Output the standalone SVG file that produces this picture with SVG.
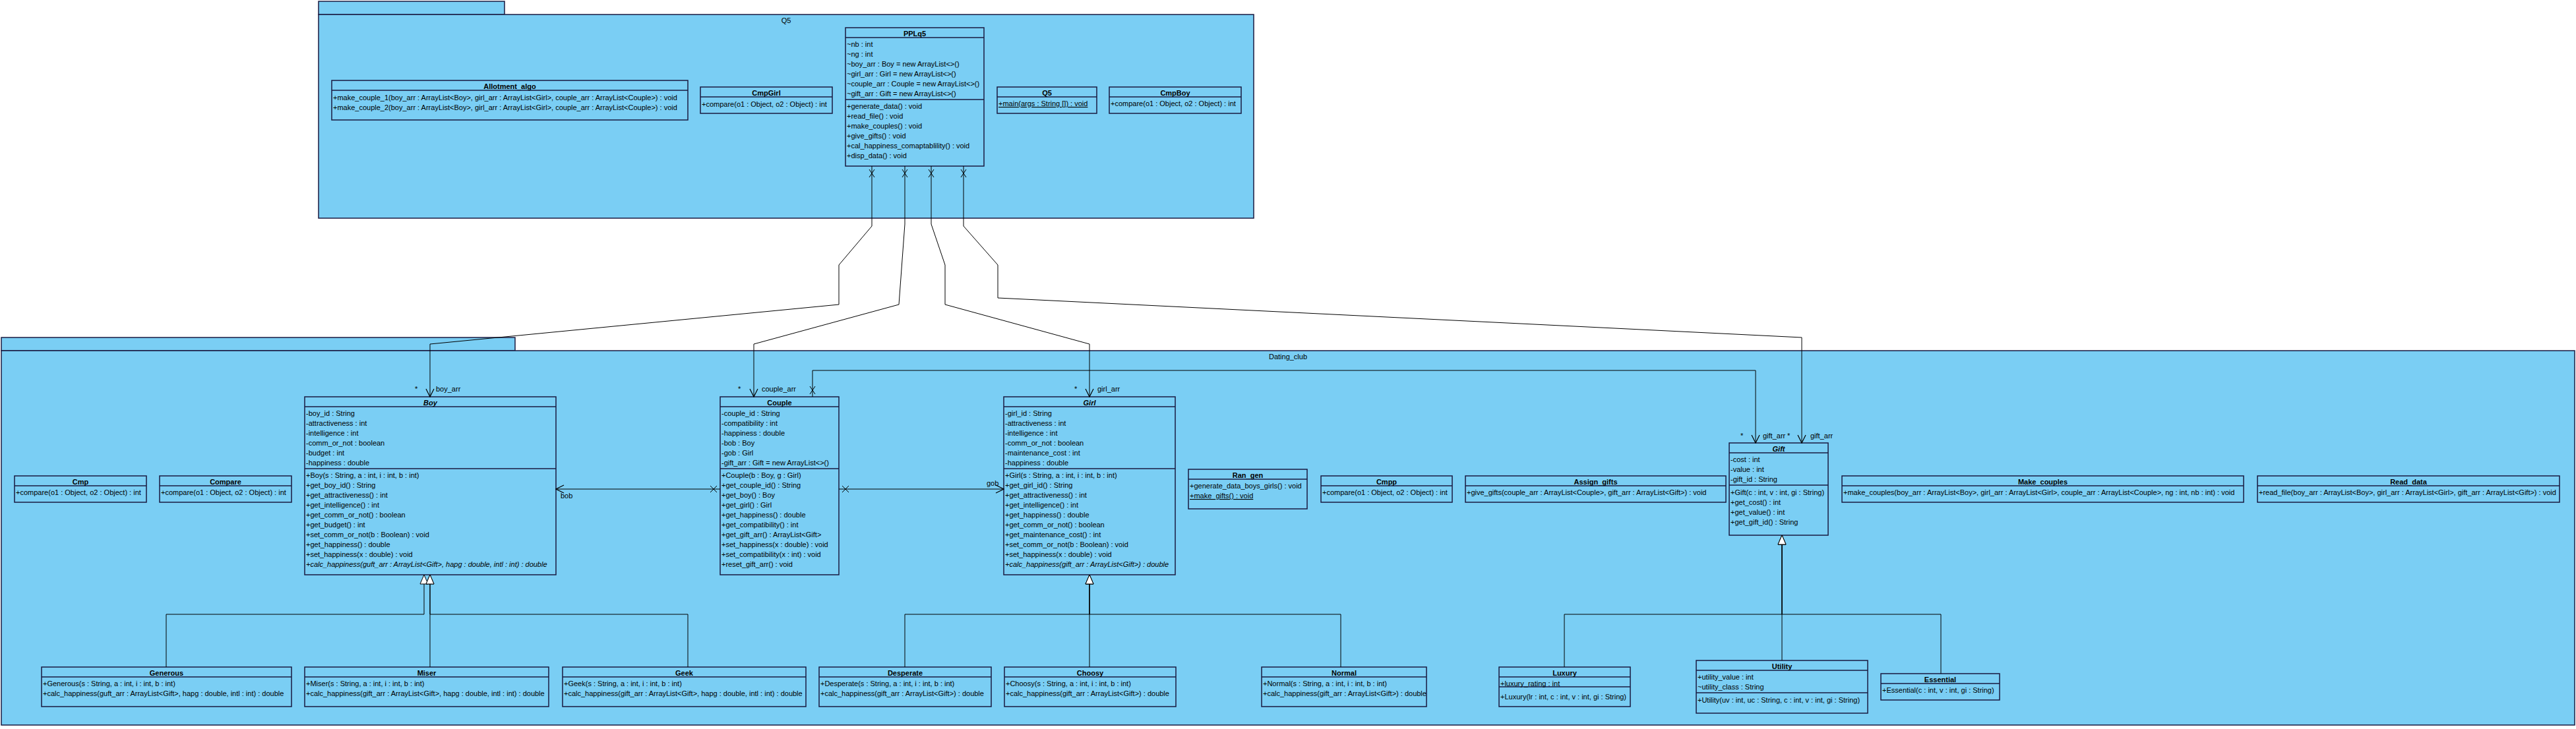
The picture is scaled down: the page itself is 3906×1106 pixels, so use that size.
<svg xmlns="http://www.w3.org/2000/svg" width="3906" height="1106" viewBox="0 0 3906 1106">
<style>
.bg{fill:#ffffff}
.pk{fill:#7ACEF4;stroke:#1a1a40;stroke-width:1.5}
.box{fill:#7ACEF4;stroke:#1a1a40;stroke-width:1.5}
.sep{stroke:#1a1a40;stroke-width:1.5}
.t{font-family:"Liberation Sans",Arial,sans-serif;font-size:11px;fill:#000}
.h{font-weight:bold;text-anchor:middle}
.c{text-anchor:middle}
.i{font-style:italic}
.u{text-decoration:underline}
.ln{fill:none;stroke:#000;stroke-width:1}
</style>
<defs>
<marker id="arr" viewBox="0 0 14 14" refX="13" refY="7" markerWidth="14" markerHeight="14" orient="auto" markerUnits="userSpaceOnUse"><path d="M1,1 L13,7 L1,13" fill="none" stroke="#000" stroke-width="1.2"/></marker>
<marker id="gen" viewBox="0 0 16 16" refX="15" refY="8" markerWidth="16" markerHeight="16" orient="auto" markerUnits="userSpaceOnUse"><path d="M1,2 L15,8 L1,14 Z" fill="#fff" stroke="#000" stroke-width="1"/></marker>
</defs>
<rect class="bg" x="0" y="0" width="3906" height="1106"/>

<g id="pkg_Q5">
<rect class="pk" x="483" y="2" width="282" height="20"/>
<rect class="pk" x="483" y="22" width="1418" height="309"/>
<text class="t c" x="1192" y="35">Q5</text>
</g>
<g id="pkg_Dating_club">
<rect class="pk" x="2" y="512" width="779" height="20"/>
<rect class="pk" x="2" y="532" width="3902" height="568"/>
<text class="t c" x="1953" y="545">Dating_club</text>
</g>

<g id="Allotment_algo">
<rect class="box" x="503" y="122" width="540" height="60"/>
<line class="sep" x1="503" y1="137" x2="1043" y2="137"/>
<text class="t h" x="773" y="135">Allotment_algo</text>
<text class="t" x="505" y="152">+make_couple_1(boy_arr : ArrayList&lt;Boy&gt;, girl_arr : ArrayList&lt;Girl&gt;, couple_arr : ArrayList&lt;Couple&gt;) : void</text>
<text class="t" x="505" y="167">+make_couple_2(boy_arr : ArrayList&lt;Boy&gt;, girl_arr : ArrayList&lt;Girl&gt;, couple_arr : ArrayList&lt;Couple&gt;) : void</text>
</g>
<g id="CmpGirl">
<rect class="box" x="1062" y="132" width="200" height="40"/>
<line class="sep" x1="1062" y1="147" x2="1262" y2="147"/>
<text class="t h" x="1162" y="145">CmpGirl</text>
<text class="t" x="1064" y="162">+compare(o1 : Object, o2 : Object) : int</text>
</g>
<g id="PPLq5">
<rect class="box" x="1282" y="42" width="210" height="210"/>
<line class="sep" x1="1282" y1="57" x2="1492" y2="57"/>
<line class="sep" x1="1282" y1="151" x2="1492" y2="151"/>
<text class="t h" x="1387" y="55">PPLq5</text>
<text class="t" x="1284" y="71">~nb : int</text>
<text class="t" x="1284" y="86">~ng : int</text>
<text class="t" x="1284" y="101">~boy_arr : Boy = new ArrayList&lt;&gt;()</text>
<text class="t" x="1284" y="116">~girl_arr : Girl = new ArrayList&lt;&gt;()</text>
<text class="t" x="1284" y="131">~couple_arr : Couple = new ArrayList&lt;&gt;()</text>
<text class="t" x="1284" y="146">~gift_arr : Gift = new ArrayList&lt;&gt;()</text>
<text class="t" x="1284" y="165">+generate_data() : void</text>
<text class="t" x="1284" y="180">+read_file() : void</text>
<text class="t" x="1284" y="195">+make_couples() : void</text>
<text class="t" x="1284" y="210">+give_gifts() : void</text>
<text class="t" x="1284" y="225">+cal_happiness_comaptablility() : void</text>
<text class="t" x="1284" y="240">+disp_data() : void</text>
</g>
<g id="Q5">
<rect class="box" x="1512" y="132" width="151" height="40"/>
<line class="sep" x1="1512" y1="147" x2="1663" y2="147"/>
<text class="t h" x="1587.5" y="145">Q5</text>
<text class="t u" x="1514" y="161">+main(args : String []) : void</text>
</g>
<g id="CmpBoy">
<rect class="box" x="1682" y="132" width="200" height="40"/>
<line class="sep" x1="1682" y1="147" x2="1882" y2="147"/>
<text class="t h" x="1782" y="145">CmpBoy</text>
<text class="t" x="1684" y="161">+compare(o1 : Object, o2 : Object) : int</text>
</g>

<g id="Cmp">
<rect class="box" x="22" y="722" width="200" height="40"/>
<line class="sep" x1="22" y1="737" x2="222" y2="737"/>
<text class="t h" x="122" y="735">Cmp</text>
<text class="t" x="24" y="751">+compare(o1 : Object, o2 : Object) : int</text>
</g>
<g id="Compare">
<rect class="box" x="242" y="722" width="200" height="40"/>
<line class="sep" x1="242" y1="737" x2="442" y2="737"/>
<text class="t h" x="342" y="735">Compare</text>
<text class="t" x="244" y="751">+compare(o1 : Object, o2 : Object) : int</text>
</g>
<g id="Boy">
<rect class="box" x="462" y="602" width="381" height="270"/>
<line class="sep" x1="462" y1="617" x2="843" y2="617"/>
<line class="sep" x1="462" y1="711" x2="843" y2="711"/>
<text class="t h i" x="652.5" y="615">Boy</text>
<text class="t" x="464" y="631">-boy_id : String</text>
<text class="t" x="464" y="646">-attractiveness : int</text>
<text class="t" x="464" y="661">-intelligence : int</text>
<text class="t" x="464" y="676">-comm_or_not : boolean</text>
<text class="t" x="464" y="691">-budget : int</text>
<text class="t" x="464" y="706">-happiness : double</text>
<text class="t" x="464" y="725">+Boy(s : String, a : int, i : int, b : int)</text>
<text class="t" x="464" y="740">+get_boy_id() : String</text>
<text class="t" x="464" y="755">+get_attractiveness() : int</text>
<text class="t" x="464" y="770">+get_intelligence() : int</text>
<text class="t" x="464" y="785">+get_comm_or_not() : boolean</text>
<text class="t" x="464" y="800">+get_budget() : int</text>
<text class="t" x="464" y="815">+set_comm_or_not(b : Boolean) : void</text>
<text class="t" x="464" y="830">+get_happiness() : double</text>
<text class="t" x="464" y="845">+set_happiness(x : double) : void</text>
<text class="t i" x="464" y="860">+calc_happiness(guft_arr : ArrayList&lt;Gift&gt;, hapg : double, intl : int) : double</text>
</g>
<g id="Couple">
<rect class="box" x="1092" y="602" width="180" height="270"/>
<line class="sep" x1="1092" y1="617" x2="1272" y2="617"/>
<line class="sep" x1="1092" y1="711" x2="1272" y2="711"/>
<text class="t h" x="1182" y="615">Couple</text>
<text class="t" x="1094" y="631">-couple_id : String</text>
<text class="t" x="1094" y="646">-compatibility : int</text>
<text class="t" x="1094" y="661">-happiness : double</text>
<text class="t" x="1094" y="676">-bob : Boy</text>
<text class="t" x="1094" y="691">-gob : Girl</text>
<text class="t" x="1094" y="706">-gift_arr : Gift = new ArrayList&lt;&gt;()</text>
<text class="t" x="1094" y="725">+Couple(b : Boy, g : Girl)</text>
<text class="t" x="1094" y="740">+get_couple_id() : String</text>
<text class="t" x="1094" y="755">+get_boy() : Boy</text>
<text class="t" x="1094" y="770">+get_girl() : Girl</text>
<text class="t" x="1094" y="785">+get_happiness() : double</text>
<text class="t" x="1094" y="800">+get_compatibility() : int</text>
<text class="t" x="1094" y="815">+get_gift_arr() : ArrayList&lt;Gift&gt;</text>
<text class="t" x="1094" y="830">+set_happiness(x : double) : void</text>
<text class="t" x="1094" y="845">+set_compatibility(x : int) : void</text>
<text class="t" x="1094" y="860">+reset_gift_arr() : void</text>
</g>
<g id="Girl">
<rect class="box" x="1522" y="602" width="260" height="270"/>
<line class="sep" x1="1522" y1="617" x2="1782" y2="617"/>
<line class="sep" x1="1522" y1="711" x2="1782" y2="711"/>
<text class="t h i" x="1652" y="615">Girl</text>
<text class="t" x="1524" y="631">-girl_id : String</text>
<text class="t" x="1524" y="646">-attractiveness : int</text>
<text class="t" x="1524" y="661">-intelligence : int</text>
<text class="t" x="1524" y="676">-comm_or_not : boolean</text>
<text class="t" x="1524" y="691">-maintenance_cost : int</text>
<text class="t" x="1524" y="706">-happiness : double</text>
<text class="t" x="1524" y="725">+Girl(s : String, a : int, i : int, b : int)</text>
<text class="t" x="1524" y="740">+get_girl_id() : String</text>
<text class="t" x="1524" y="755">+get_attractiveness() : int</text>
<text class="t" x="1524" y="770">+get_intelligence() : int</text>
<text class="t" x="1524" y="785">+get_happiness() : double</text>
<text class="t" x="1524" y="800">+get_comm_or_not() : boolean</text>
<text class="t" x="1524" y="815">+get_maintenance_cost() : int</text>
<text class="t" x="1524" y="830">+set_comm_or_not(b : Boolean) : void</text>
<text class="t" x="1524" y="845">+set_happiness(x : double) : void</text>
<text class="t i" x="1524" y="860">+calc_happiness(gift_arr : ArrayList&lt;Gift&gt;) : double</text>
</g>
<g id="Ran_gen">
<rect class="box" x="1802" y="712" width="180" height="60"/>
<line class="sep" x1="1802" y1="727" x2="1982" y2="727"/>
<text class="t h" x="1892" y="725">Ran_gen</text>
<text class="t" x="1804" y="741">+generate_data_boys_girls() : void</text>
<text class="t u" x="1804" y="756">+make_gifts() : void</text>
</g>
<g id="Cmpp">
<rect class="box" x="2003" y="722" width="199" height="40"/>
<line class="sep" x1="2003" y1="737" x2="2202" y2="737"/>
<text class="t h" x="2102.5" y="735">Cmpp</text>
<text class="t" x="2005" y="751">+compare(o1 : Object, o2 : Object) : int</text>
</g>
<g id="Assign_gifts">
<rect class="box" x="2222" y="722" width="395" height="40"/>
<line class="sep" x1="2222" y1="737" x2="2617" y2="737"/>
<text class="t h" x="2419.5" y="735">Assign_gifts</text>
<text class="t" x="2224" y="751">+give_gifts(couple_arr : ArrayList&lt;Couple&gt;, gift_arr : ArrayList&lt;Gift&gt;) : void</text>
</g>
<g id="Gift">
<rect class="box" x="2622" y="672" width="150" height="140"/>
<line class="sep" x1="2622" y1="687" x2="2772" y2="687"/>
<line class="sep" x1="2622" y1="736" x2="2772" y2="736"/>
<text class="t h i" x="2697" y="685">Gift</text>
<text class="t" x="2624" y="701">-cost : int</text>
<text class="t" x="2624" y="716">-value : int</text>
<text class="t" x="2624" y="731">-gift_id : String</text>
<text class="t" x="2624" y="751">+Gift(c : int, v : int, gi : String)</text>
<text class="t" x="2624" y="766">+get_cost() : int</text>
<text class="t" x="2624" y="781">+get_value() : int</text>
<text class="t" x="2624" y="796">+get_gift_id() : String</text>
</g>
<g id="Make_couples">
<rect class="box" x="2793" y="722" width="609" height="40"/>
<line class="sep" x1="2793" y1="737" x2="3402" y2="737"/>
<text class="t h" x="3097.5" y="735">Make_couples</text>
<text class="t" x="2795" y="751">+make_couples(boy_arr : ArrayList&lt;Boy&gt;, girl_arr : ArrayList&lt;Girl&gt;, couple_arr : ArrayList&lt;Couple&gt;, ng : int, nb : int) : void</text>
</g>
<g id="Read_data">
<rect class="box" x="3423" y="722" width="458" height="40"/>
<line class="sep" x1="3423" y1="737" x2="3881" y2="737"/>
<text class="t h" x="3652" y="735">Read_data</text>
<text class="t" x="3425" y="751">+read_file(boy_arr : ArrayList&lt;Boy&gt;, girl_arr : ArrayList&lt;Girl&gt;, gift_arr : ArrayList&lt;Gift&gt;) : void</text>
</g>
<g id="Generous">
<rect class="box" x="63" y="1012" width="379" height="60"/>
<line class="sep" x1="63" y1="1027" x2="442" y2="1027"/>
<text class="t h" x="252.5" y="1025">Generous</text>
<text class="t" x="65" y="1041">+Generous(s : String, a : int, i : int, b : int)</text>
<text class="t" x="65" y="1056">+calc_happiness(guft_arr : ArrayList&lt;Gift&gt;, hapg : double, intl : int) : double</text>
</g>
<g id="Miser">
<rect class="box" x="462" y="1012" width="370" height="60"/>
<line class="sep" x1="462" y1="1027" x2="832" y2="1027"/>
<text class="t h" x="647" y="1025">Miser</text>
<text class="t" x="464" y="1041">+Miser(s : String, a : int, i : int, b : int)</text>
<text class="t" x="464" y="1056">+calc_happiness(gift_arr : ArrayList&lt;Gift&gt;, hapg : double, intl : int) : double</text>
</g>
<g id="Geek">
<rect class="box" x="853" y="1012" width="369" height="60"/>
<line class="sep" x1="853" y1="1027" x2="1222" y2="1027"/>
<text class="t h" x="1037.5" y="1025">Geek</text>
<text class="t" x="855" y="1041">+Geek(s : String, a : int, i : int, b : int)</text>
<text class="t" x="855" y="1056">+calc_happiness(gift_arr : ArrayList&lt;Gift&gt;, hapg : double, intl : int) : double</text>
</g>
<g id="Desperate">
<rect class="box" x="1242" y="1012" width="261" height="60"/>
<line class="sep" x1="1242" y1="1027" x2="1503" y2="1027"/>
<text class="t h" x="1372.5" y="1025">Desperate</text>
<text class="t" x="1244" y="1041">+Desperate(s : String, a : int, i : int, b : int)</text>
<text class="t" x="1244" y="1056">+calc_happiness(gift_arr : ArrayList&lt;Gift&gt;) : double</text>
</g>
<g id="Choosy">
<rect class="box" x="1523" y="1012" width="260" height="60"/>
<line class="sep" x1="1523" y1="1027" x2="1783" y2="1027"/>
<text class="t h" x="1653" y="1025">Choosy</text>
<text class="t" x="1525" y="1041">+Choosy(s : String, a : int, i : int, b : int)</text>
<text class="t" x="1525" y="1056">+calc_happiness(gift_arr : ArrayList&lt;Gift&gt;) : double</text>
</g>
<g id="Normal">
<rect class="box" x="1913" y="1012" width="250" height="60"/>
<line class="sep" x1="1913" y1="1027" x2="2163" y2="1027"/>
<text class="t h" x="2038" y="1025">Normal</text>
<text class="t" x="1915" y="1041">+Normal(s : String, a : int, i : int, b : int)</text>
<text class="t" x="1915" y="1056">+calc_happiness(gift_arr : ArrayList&lt;Gift&gt;) : double</text>
</g>
<g id="Luxury">
<rect class="box" x="2273" y="1012" width="199" height="60"/>
<line class="sep" x1="2273" y1="1027" x2="2472" y2="1027"/>
<line class="sep" x1="2273" y1="1042" x2="2472" y2="1042"/>
<text class="t h" x="2372.5" y="1025">Luxury</text>
<text class="t" x="2275" y="1041">+luxury_rating : int</text>
<text class="t" x="2275" y="1061">+Luxury(lr : int, c : int, v : int, gi : String)</text>
</g>
<g id="Utility">
<rect class="box" x="2572" y="1002" width="260" height="80"/>
<line class="sep" x1="2572" y1="1017" x2="2832" y2="1017"/>
<line class="sep" x1="2572" y1="1051" x2="2832" y2="1051"/>
<text class="t h" x="2702" y="1015">Utility</text>
<text class="t" x="2574" y="1031">+utility_value : int</text>
<text class="t" x="2574" y="1046">~utility_class : String</text>
<text class="t" x="2574" y="1066">+Utility(uv : int, uc : String, c : int, v : int, gi : String)</text>
</g>
<g id="Essential">
<rect class="box" x="2852" y="1022" width="180" height="40"/>
<line class="sep" x1="2852" y1="1037" x2="3032" y2="1037"/>
<text class="t h" x="2942" y="1035">Essential</text>
<text class="t" x="2854" y="1051">+Essential(c : int, v : int, gi : String)</text>
</g>

<g id="connectors">
<path class="ln" d="M1322,252 V343 L1272,402 V462 L652,522 V602" marker-end="url(#arr)"/>
<path class="ln" d="M1372,252 V340 L1363,462 L1143,522 V602" marker-end="url(#arr)"/>
<path class="ln" d="M1412,252 V340 L1433,402 V462 L1652,522 V602" marker-end="url(#arr)"/>
<path class="ln" d="M1461,252 V343 L1513,402 V452 L2732,512 V672" marker-end="url(#arr)"/>
<path class="ln" d="M1318,257 L1326,269 M1326,257 L1318,269 M1368,257 L1376,269 M1376,257 L1368,269 M1408,257 L1416,269 M1416,257 L1408,269 M1457,257 L1465,269 M1465,257 L1457,269"/>
<path class="ln" d="M1232,602 V562 H2662 V672" marker-end="url(#arr)"/>
<path class="ln" d="M1228,586 L1236,598 M1236,586 L1228,598"/>
<path class="ln" d="M1092,742 H843" marker-end="url(#arr)"/>
<path class="ln" d="M1077,737 L1087,747 M1087,737 L1077,747"/>
<path class="ln" d="M1272,742 H1522" marker-end="url(#arr)"/>
<path class="ln" d="M1277,737 L1287,747 M1287,737 L1277,747"/>
<path class="ln" d="M252,1012 V932 H643 V872" marker-end="url(#gen)"/>
<path class="ln" d="M652,1012 V872" marker-end="url(#gen)"/>
<path class="ln" d="M1043,1012 V932 H652 V872" marker-end="url(#gen)"/>
<path class="ln" d="M1372,1012 V932 H1652 V872" marker-end="url(#gen)"/>
<path class="ln" d="M1652,1012 V872" marker-end="url(#gen)"/>
<path class="ln" d="M2033,1012 V932 H1652 V872" marker-end="url(#gen)"/>
<path class="ln" d="M2372,1012 V932 H2702 V812" marker-end="url(#gen)"/>
<path class="ln" d="M2702,1002 V812" marker-end="url(#gen)"/>
<path class="ln" d="M2943,1022 V932 H2702 V812" marker-end="url(#gen)"/>
<text class="t" x="629" y="594">*</text>
<text class="t" x="661" y="594">boy_arr</text>
<text class="t" x="1119" y="594">*</text>
<text class="t" x="1155" y="594">couple_arr</text>
<text class="t" x="1629" y="594">*</text>
<text class="t" x="1664" y="594">girl_arr</text>
<text class="t" x="2639" y="665">*</text>
<text class="t" x="2673" y="665">gift_arr</text>
<text class="t" x="2710" y="665">*</text>
<text class="t" x="2745" y="665">gift_arr</text>
<text class="t" x="850" y="756">bob</text>
<text class="t" x="1496" y="737">gob</text>
</g>
</svg>
